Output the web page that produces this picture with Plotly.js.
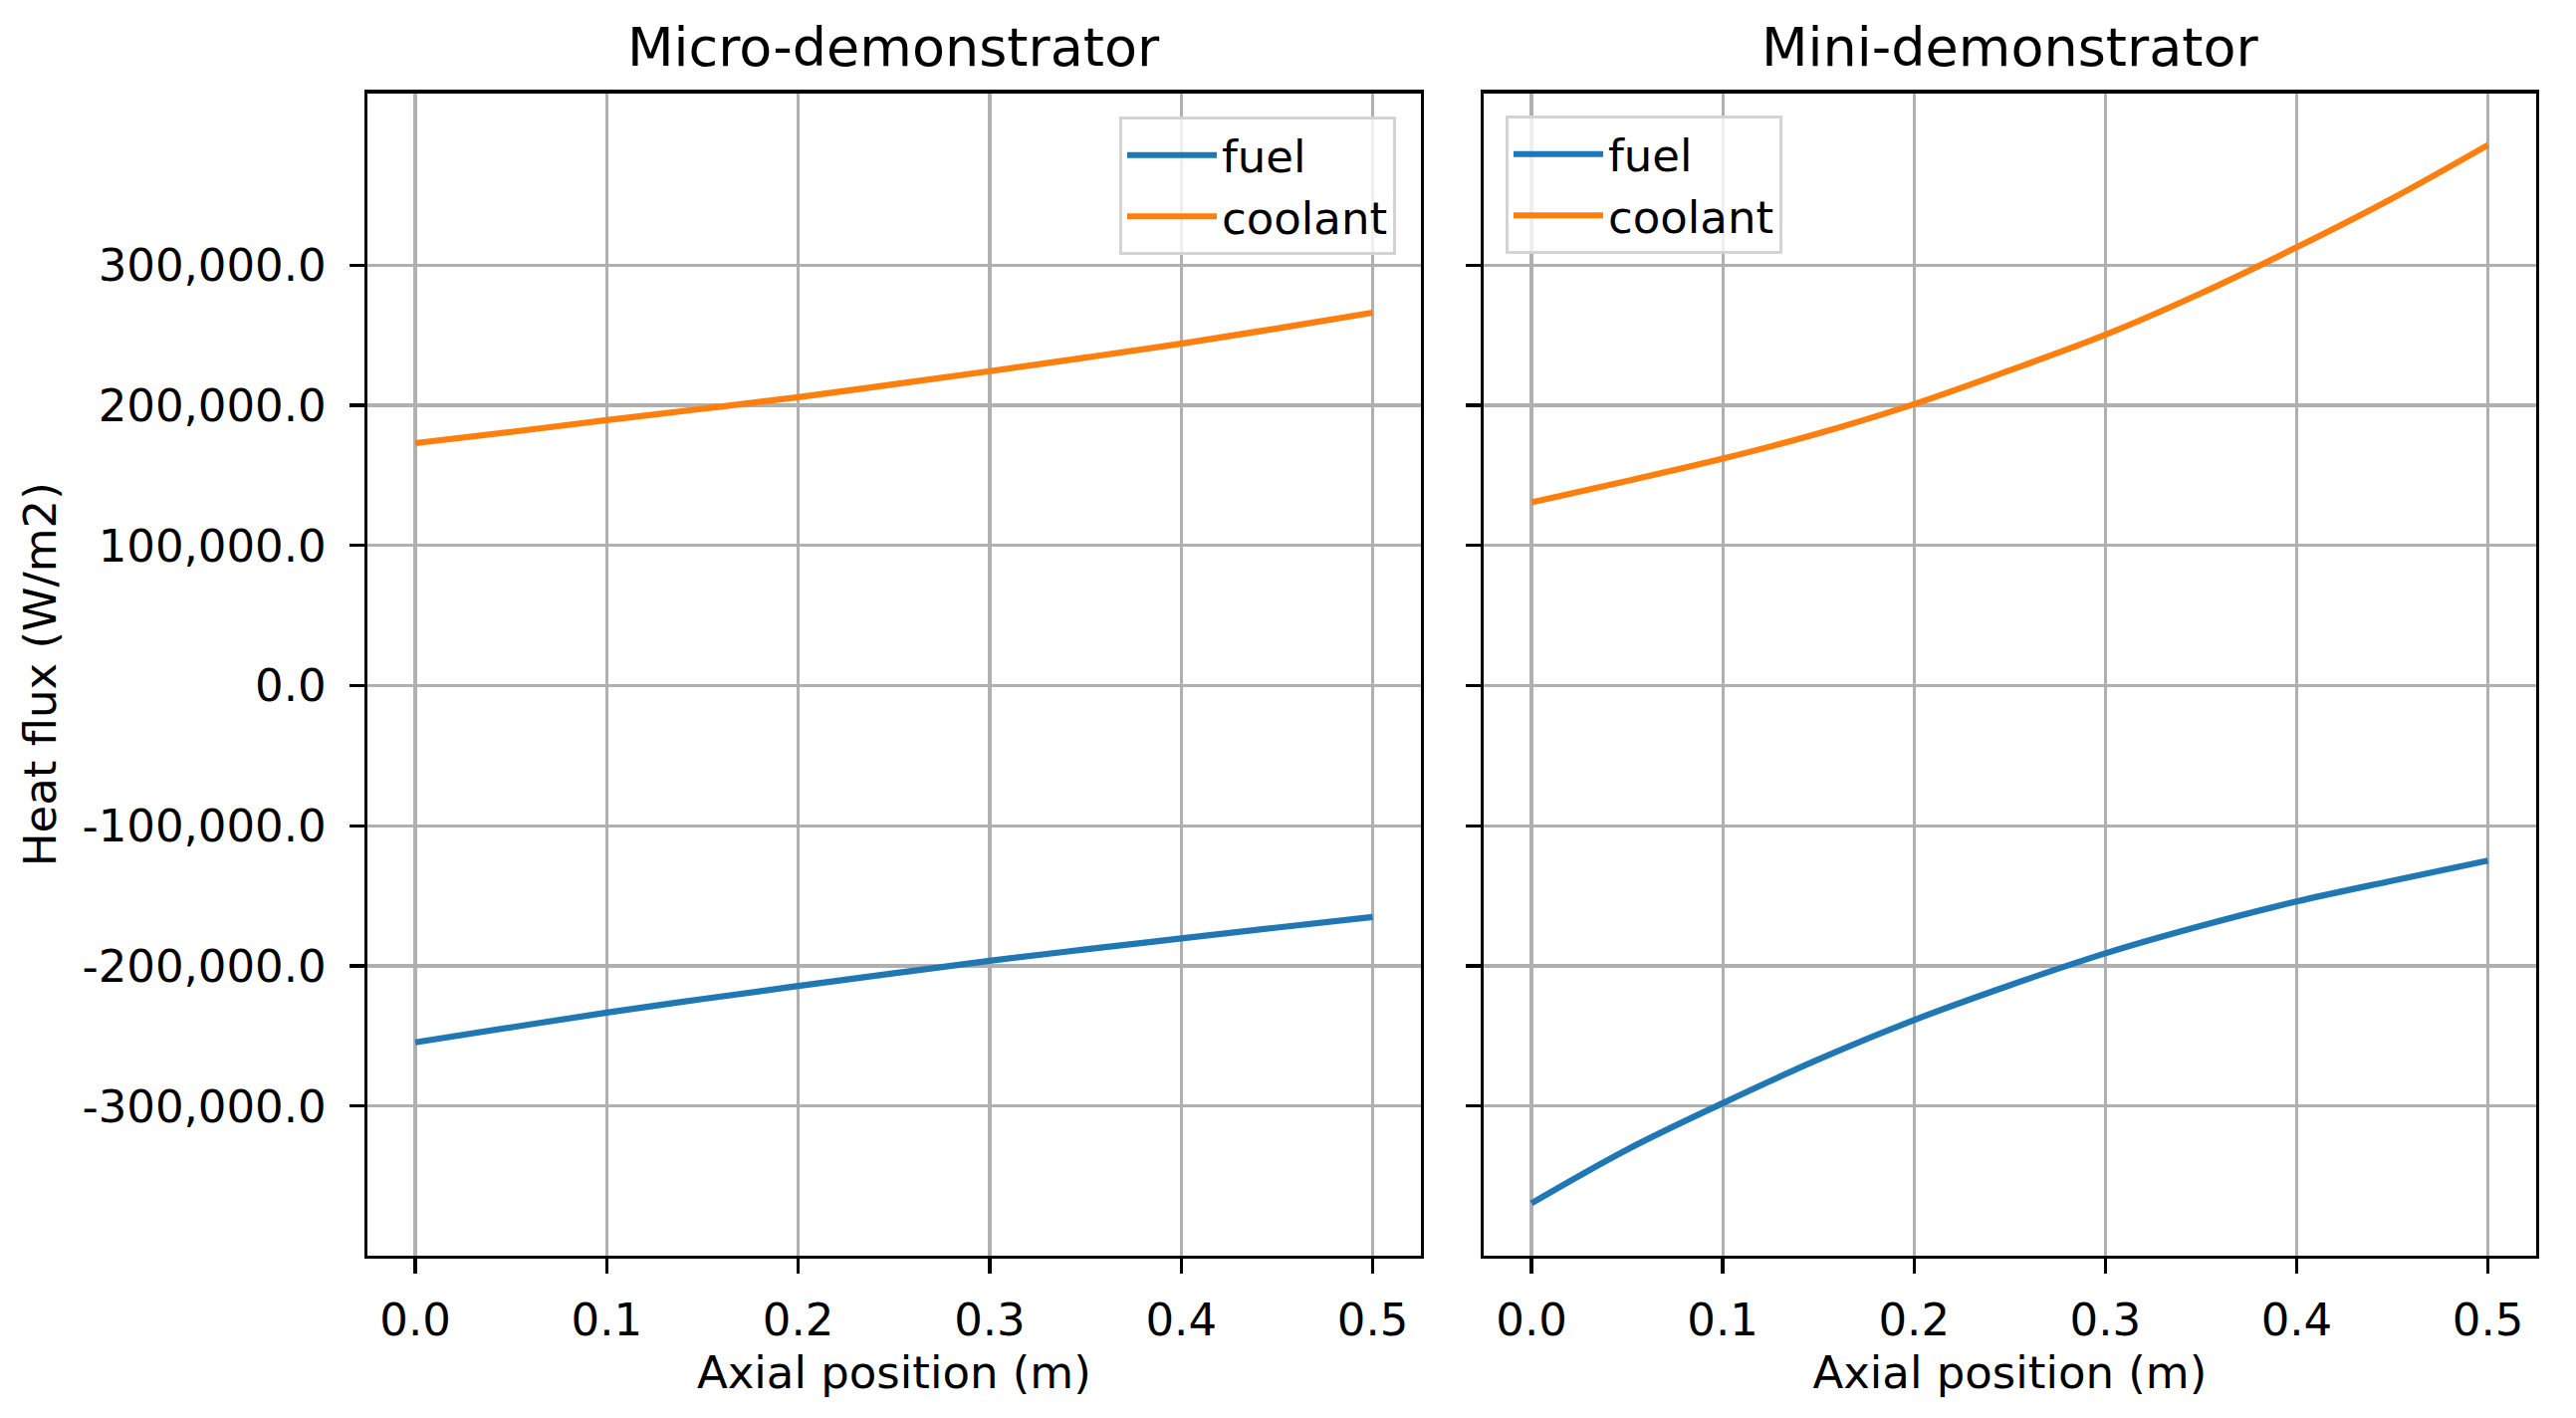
<!DOCTYPE html>
<html>
<head>
<meta charset="utf-8">
<script src="https://cdn.plot.ly/plotly-3.0.1.min.js"></script>
<style>html,body{margin:0;padding:0;background:#fff;}#chart{width:2587px;height:1424px;}</style>
</head>
<body>
<div id="chart"></div>
<script>
// Axial position (m)
const position = [0.0, 0.05, 0.1, 0.15, 0.2, 0.25, 0.3, 0.35, 0.4, 0.45, 0.5];

// Micro-demonstrator heat flux (W/m2)
const microFuel = [-254500, -243800, -233300, -223600, -214300, -205200, -196300, -188200, -180400, -172600, -165100];
const microCoolant = [173000, 181000, 189400, 197500, 205800, 215000, 224300, 234000, 243900, 254800, 266100];

// Mini-demonstrator heat flux (W/m2)
const miniFuel = [-369300, -331000, -297900, -266700, -238600, -213800, -191000, -171400, -154000, -139200, -124900];
const miniCoolant = [130700, 146000, 161900, 179900, 200800, 224900, 250300, 279900, 312700, 347600, 385700];

const panelTitles = ["Micro-demonstrator", "Mini-demonstrator"];
const seriesNames = ["fuel", "coolant"];
const seriesColors = ["#1f77b4", "#ff7f0e"];

const xTickVals = [0.0, 0.1, 0.2, 0.3, 0.4, 0.5];
const xTickText = ["0.0", "0.1", "0.2", "0.3", "0.4", "0.5"];
const yTickVals = [-300000, -200000, -100000, 0, 100000, 200000, 300000];
const yTickText = ["-300,000.0", "-200,000.0", "-100,000.0", "0.0", "100,000.0", "200,000.0", "300,000.0"];

const xTitle = "Axial position (m)";
const yTitle = "Heat flux (W/m2)";

(function () {
const FONT = "DejaVu Sans, Liberation Sans, sans-serif";
const LW = 6.2;

function line(x, y, name, color, xa, ya, leg) {
  return {x: x, y: y, type: "scatter", mode: "lines", name: name,
    line: {color: color, width: LW, shape: "spline", smoothing: 1},
    xaxis: xa, yaxis: ya, legend: leg};
}

const data = [
  line(position, microFuel, seriesNames[0], seriesColors[0], "x", "y", "legend"),
  line(position, microCoolant, seriesNames[1], seriesColors[1], "x", "y", "legend"),
  line(position, miniFuel, seriesNames[0], seriesColors[0], "x2", "y2", "legend2"),
  line(position, miniCoolant, seriesNames[1], seriesColors[1], "x2", "y2", "legend2")
];

const W = 2587, H = 1424;
const plotTop = 93.5, plotBottom = 1261;
const yDom = [1 - plotBottom / H, 1 - plotTop / H];
const x1Dom = [369 / W, 1426.6 / W];
const x2Dom = [1490 / W, 2546.6 / W];

function xaxis(dom, anchor) {
  return {
    domain: dom, anchor: anchor, range: [-0.025, 0.525],
    tickvals: xTickVals, ticktext: xTickText,
    showgrid: true, gridcolor: "#b0b0b0", gridwidth: 3.2,
    zeroline: false, showline: true, mirror: true, linecolor: "#000", linewidth: 3.3,
    ticks: "outside", ticklen: 15, tickwidth: 3.3, tickcolor: "#000",
    ticklabelstandoff: 8,
    tickfont: {family: FONT, size: 45, color: "#000"},
    title: {text: xTitle, font: {family: FONT, size: 45, color: "#000"}, standoff: 0}
  };
}
function yaxis(dom, anchor, labels) {
  return {
    domain: dom, anchor: anchor, range: [-406700, 422700],
    tickvals: yTickVals, ticktext: yTickText, showticklabels: labels,
    showgrid: true, gridcolor: "#b0b0b0", gridwidth: 3.2,
    zeroline: false, showline: true, mirror: true, linecolor: "#000", linewidth: 3.3,
    ticks: "outside", ticklen: 15, tickwidth: 3.3, tickcolor: "#000",
    ticklabelstandoff: 14,
    tickfont: {family: FONT, size: 45, color: "#000"}
  };
}

const yA = yaxis(yDom, "x", true);
yA.title = {text: yTitle, font: {family: FONT, size: 45, color: "#000"}, standoff: 12};
const yB = yaxis(yDom, "x2", false);
yB.matches = "y";

const legendStyle = {
  font: {family: FONT, size: 45, color: "#000"},
  bgcolor: "rgba(255,255,255,0.8)", bordercolor: "#d4d4d4", borderwidth: 3,
  yanchor: "top", itemwidth: 90, tracegroupgap: 0
};

const layout = {
  width: W, height: H,
  margin: {l: 0, r: 0, t: 0, b: 0, pad: 0},
  paper_bgcolor: "#fff", plot_bgcolor: "#fff",
  font: {family: FONT, size: 45, color: "#000"},
  showlegend: true,
  xaxis: xaxis(x1Dom, "y"),
  yaxis: yA,
  xaxis2: xaxis(x2Dom, "y2"),
  yaxis2: yB,
  legend: Object.assign({}, legendStyle, {x: 1402 / W, xanchor: "right", y: 1 - 117 / H}),
  legend2: Object.assign({}, legendStyle, {x: 1512 / W, xanchor: "left", y: 1 - 116 / H}),
  annotations: [
    {text: panelTitles[0], xref: "paper", yref: "paper", x: (x1Dom[0] + x1Dom[1]) / 2, y: yDom[1],
     xanchor: "center", yanchor: "bottom", yshift: 13, showarrow: false,
     font: {family: FONT, size: 54, color: "#000"}},
    {text: panelTitles[1], xref: "paper", yref: "paper", x: (x2Dom[0] + x2Dom[1]) / 2, y: yDom[1],
     xanchor: "center", yanchor: "bottom", yshift: 13, showarrow: false,
     font: {family: FONT, size: 54, color: "#000"}}
  ]
};

Plotly.newPlot("chart", data, layout, {displayModeBar: false, staticPlot: true});
})();
</script>
</body>
</html>
